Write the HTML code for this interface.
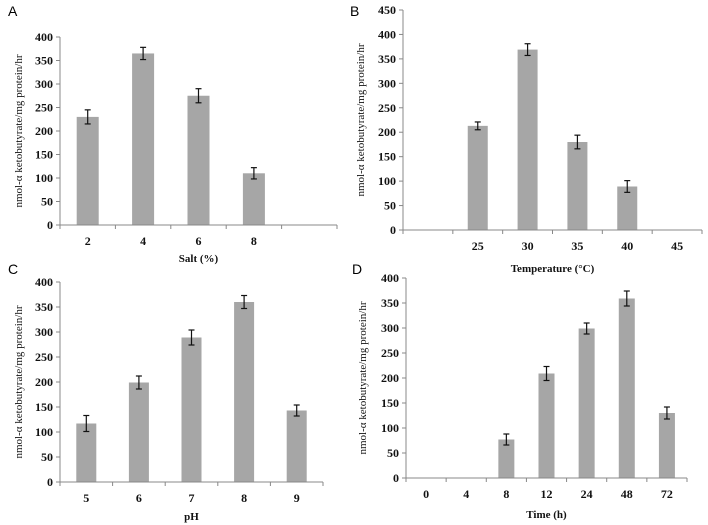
<!DOCTYPE html>
<html><head><meta charset="utf-8"><style>
body{margin:0;background:#fff;}
svg{display:block;}
.tk{font-family:"Liberation Serif",serif;font-weight:bold;font-size:12px;fill:#111;}
.at{font-family:"Liberation Serif",serif;font-weight:bold;font-size:11px;fill:#111;}
.yt{font-family:"Liberation Serif",serif;font-size:11px;fill:#111;}
.pl{font-family:"Liberation Sans",sans-serif;font-size:14px;fill:#000;}
</style></head><body>
<svg id="fig" width="708" height="525" viewBox="0 0 708 525"></svg>
<script>
const catsA=["2","4","6","8",""];
const valsA=[230,365,275,110,null];
const errA=[15,13,15,12,0];
const catsB=["","25","30","35","40","45"];
const valsB=[null,213,369,180,89,null];
const errB=[0,8,12,14,12,0];
const catsC=["5","6","7","8","9"];
const valsC=[117,199,289,360,143];
const errC=[16,13,15,13,11];
const catsD=["0","4","8","12","24","48","72"];
const valsD=[null,null,77,209,299,359,130];
const errD=[0,0,11,14,11,15,12];

const panels=[
 {id:"a",letter:"A",lx:8,ly:16,cats:catsA,vals:valsA,errs:errA,x0:60,x1:337,y0:225,yTop:37,max:400,step:50,bw:22,title:"Salt (%)",ty:262,ylx:22},
 {id:"b",letter:"B",lx:350,ly:16,cats:catsB,vals:valsB,errs:errB,x0:403,x1:702,y0:230,yTop:10,max:450,step:50,bw:20,title:"Temperature (°C)",ty:272,ylx:364},
 {id:"c",letter:"C",lx:8,ly:274,cats:catsC,vals:valsC,errs:errC,x0:60,x1:323,y0:482,yTop:282,max:400,step:50,bw:20,title:"pH",ty:520,ylx:22},
 {id:"d",letter:"D",lx:352,ly:274,cats:catsD,vals:valsD,errs:errD,x0:406,x1:687,y0:478,yTop:278,max:400,step:50,bw:16,title:"Time (h)",ty:518,ylx:366}
];
const NS="http://www.w3.org/2000/svg";
const svg=document.getElementById('fig');
function mk(tag,attrs,parent,text){const e=document.createElementNS(NS,tag);for(const k in attrs)e.setAttribute(k,attrs[k]);if(text!==undefined)e.textContent=text;parent.appendChild(e);return e;}
panels.forEach(p=>{
 const g=mk('g',{},svg);
 
 
 const yS=v=>p.y0-(v/p.max)*(p.y0-p.yTop);
 const n=p.cats.length, sw=(p.x1-p.x0)/n;
 const xC=i=>p.x0+sw*(i+0.5);
 const L=mk('text',{x:p.lx,y:p.ly,class:'pl'},g,p.letter);
 
 
 // bars
 p.vals.forEach((v,i)=>{
  if(v===null)return;
  const b=mk('rect',{x:xC(i)-p.bw/2,y:yS(v),width:p.bw,height:p.y0-yS(v),fill:'#a6a6a6'},g);
  
  
  const e=p.errs[i],cx=xC(i);
  const eg=mk('g',{stroke:'#111','stroke-width':1.2},g);
  
  
  mk('line',{x1:cx,x2:cx,y1:yS(v+e),y2:yS(v-e)},eg);
  mk('line',{x1:cx-3,x2:cx+3,y1:yS(v+e),y2:yS(v+e)},eg);
  mk('line',{x1:cx-3,x2:cx+3,y1:yS(v-e),y2:yS(v-e)},eg);
 });
 // axes
 const ax=mk('g',{stroke:'#888','stroke-width':1},g);
 
 
 mk('line',{x1:p.x0,x2:p.x0,y1:p.yTop,y2:p.y0},ax);
 mk('line',{x1:p.x0,x2:p.x1,y1:p.y0,y2:p.y0},ax);
 for(let v=0;v<=p.max;v+=p.step){
  mk('line',{x1:p.x0-4,x2:p.x0,y1:yS(v),y2:yS(v)},ax);
  const t=mk('text',{x:p.x0-7,y:yS(v)+4,'text-anchor':'end',class:'tk'},g,String(v));
  
  
 }
 for(let i=0;i<=n;i++){const x=p.x0+sw*i;mk('line',{x1:x,x2:x,y1:p.y0,y2:p.y0+4},ax);}
 p.cats.forEach((c,i)=>{
  if(!c)return;
  const t=mk('text',{x:xC(i),y:p.y0+20,'text-anchor':'middle',class:'tk'},g,c);
  
  
 });
 const xt=mk('text',{x:(p.x0+p.x1)/2,y:p.ty,'text-anchor':'middle',class:'at'},g,p.title);
 
 
 const ym=(p.y0+p.yTop)/2;
 const yt=mk('text',{x:p.ylx,y:ym,'text-anchor':'middle',class:'yt',transform:'rotate(-90 '+p.ylx+' '+ym+')'},g,'nmol-α ketobutyrate/mg protein/hr');
 
 
});
</script>
</body></html>
